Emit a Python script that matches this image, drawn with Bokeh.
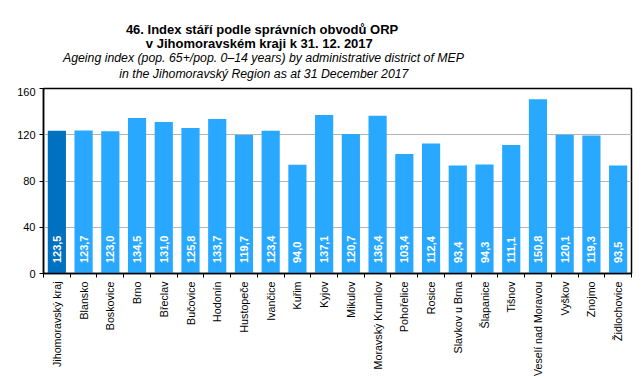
from math import pi
from bokeh.plotting import figure
from bokeh.layouts import column
from bokeh.models import FixedTicker, ColumnDataSource, Range1d
from bokeh.core.properties import value
from bokeh.embed import file_html
from bokeh.resources import INLINE

districts = ["Jihomoravský kraj", "Blansko", "Boskovice", "Brno", "Břeclav", "Bučovice",
             "Hodonín", "Hustopeče", "Ivančice", "Kuřim", "Kyjov", "Mikulov",
             "Moravský Krumlov", "Pohořelice", "Rosice", "Slavkov u Brna", "Šlapanice",
             "Tišnov", "Veselí nad Moravou", "Vyškov", "Znojmo", "Židlochovice"]
ageing_index = [123.5, 123.7, 123.0, 134.5, 131.0, 125.8, 133.7, 119.7, 123.4, 94.0,
                137.1, 120.7, 136.4, 103.4, 112.4, 93.4, 94.3, 111.1, 150.8, 120.1,
                119.3, 93.5]
y_ticks = [0, 40, 80, 120, 160]
title_lines = ["46. Index stáří podle správních obvodů ORP",
               "v Jihomoravském kraji  k 31. 12. 2017"]
subtitle_lines = ["Ageing index (pop. 65+/pop. 0–14 years) by administrative district of MEP",
                  "in the Jihomoravský Region as at 31 December 2017"]

REGION_COLOR = "#0070C0"
DISTRICT_COLOR = "#29A8FF"
FONT = "Liberation Sans"

W = 643
TITLE_H = 87
MAIN_H = 291

# ---------- title strip ----------
t = figure(width=W, height=TITLE_H, x_range=Range1d(0, W), y_range=Range1d(TITLE_H, 0),
           output_backend="svg", toolbar_location=None, x_axis_type=None, y_axis_type=None,
           min_border=0)
t.outline_line_color = None
t.background_fill_color = "white"
t.border_fill_color = "white"
t.text(x=[239, 238], y=[28.5, 42.5], text=title_lines, text_align="center",
       text_baseline="alphabetic", text_font=value(FONT), text_font_style="bold",
       text_font_size="13px", text_color="black")
t.text(x=[240.5, 241], y=[57, 73.5], text=subtitle_lines, text_align="center",
       text_baseline="alphabetic", text_font=value(FONT), text_font_style="italic",
       text_font_size="12.3px", text_color="black")

# ---------- main chart ----------
n = len(districts)
xs = list(range(n))
src = ColumnDataSource(dict(
    x=xs,
    top=ageing_index,
    label=[f"{v:.1f}".replace(".", ",") for v in ageing_index],
    color=[REGION_COLOR if i == 0 else DISTRICT_COLOR for i in xs],
))

p = figure(width=W, height=MAIN_H, x_range=Range1d(-0.5, n - 0.5), y_range=Range1d(0, 160),
           output_backend="svg", toolbar_location=None,
           min_border_left=43, min_border_right=12, min_border_top=1, min_border_bottom=104)
p.background_fill_color = "white"
p.border_fill_color = "white"
p.outline_line_color = "black"
p.outline_line_width = 1.5

p.vbar(x="x", top="top", width=0.68, fill_color="color", line_color=None, source=src)
p.text(x="x", y=9, text="label", source=src, angle=pi / 2, text_align="left",
       text_baseline="middle", text_color="white", text_font_style="bold",
       text_font_size="11px", text_font=value(FONT))

# x axis
p.xaxis.ticker = FixedTicker(ticks=xs, minor_ticks=[i - 0.5 for i in range(n + 1)])
p.xaxis.major_label_overrides = {i: d for i, d in enumerate(districts)}
p.xaxis.major_label_orientation = pi / 2
p.xaxis.major_tick_line_color = None
p.xaxis.major_tick_out = 4
p.xaxis.major_tick_in = 0
p.xaxis.minor_tick_out = 4
p.xaxis.minor_tick_in = 0
p.xaxis.minor_tick_line_color = "black"
p.xaxis.major_label_standoff = 4
p.xaxis.major_label_text_font = FONT
p.xaxis.major_label_text_font_size = "10.7px"
p.xaxis.major_label_text_color = "black"
p.xaxis.axis_line_color = "black"
p.xaxis.axis_line_width = 1.5
p.xgrid.grid_line_color = None

# y axis
p.yaxis.ticker = FixedTicker(ticks=y_ticks, minor_ticks=[])
p.yaxis.major_tick_out = 4
p.yaxis.major_tick_in = 0
p.yaxis.major_tick_line_color = "black"
p.yaxis.major_label_standoff = 4
p.yaxis.major_label_text_font = FONT
p.yaxis.major_label_text_font_size = "11px"
p.yaxis.major_label_text_color = "black"
p.yaxis.axis_line_color = "black"
p.yaxis.axis_line_width = 1.5
p.ygrid.ticker = FixedTicker(ticks=y_ticks)
p.ygrid.grid_line_color = "#B4B4B4"
p.ygrid.grid_line_width = 1

layout = column(t, p, spacing=0)
open("out.html", "w").write(file_html(layout, INLINE))
